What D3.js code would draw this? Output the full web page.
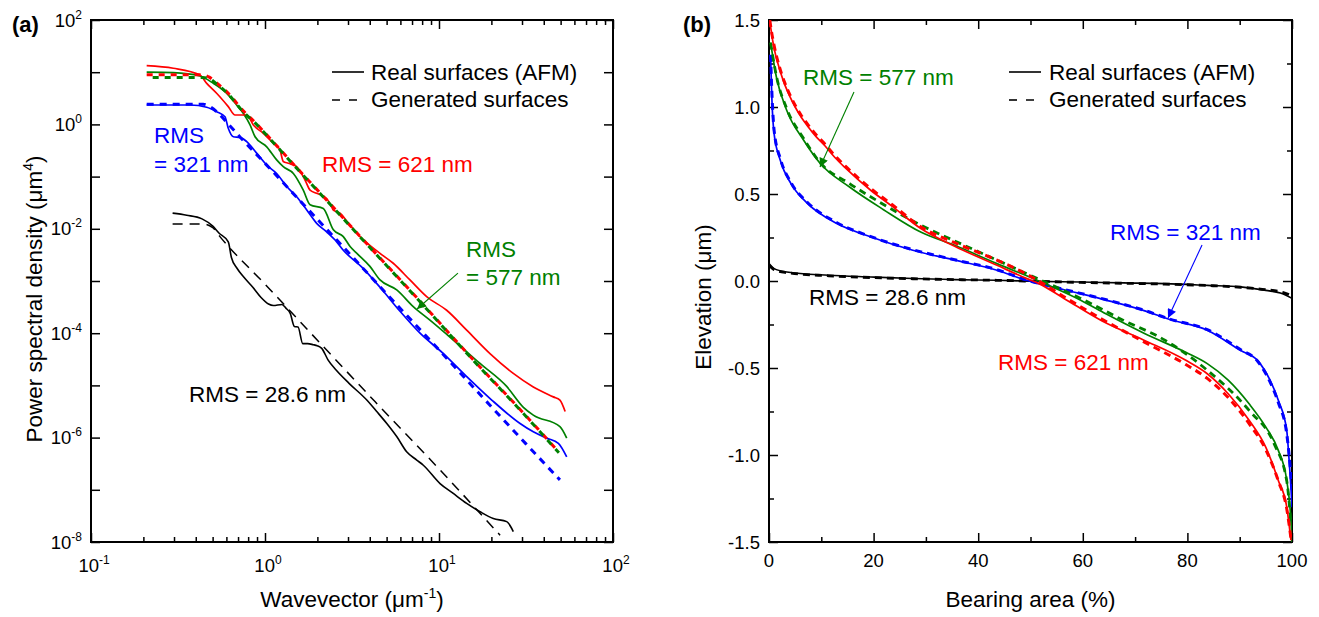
<!DOCTYPE html>
<html><head><meta charset="utf-8">
<script src="https://cdn.jsdelivr.net/npm/d3@7"></script>
<style>
body{margin:0;background:#fff}
text{font-family:"Liberation Sans",Arial,Helvetica,sans-serif;fill:#000}
</style>
</head><body>
<svg id="chart" width="1319" height="617"></svg>
<script>
// ---------- DATA ----------
// Panel (a): pairs of [log10 wavevector (um^-1), log10 PSD (um^4)]
const psdRedReal = [[-0.68,1.125],[-0.527,1.075],[-0.374,0.946],[-0.335,0.787],[-0.278,0.596],[-0.211,0.34],[-0.172,0.18],[-0.105,0.18],[-0.067,-0.01],[-0.01,-0.17],[0.048,-0.36],[0.086,-0.49],[0.105,-0.71],[0.134,-0.745],[0.182,-0.81],[0.23,-1.065],[0.259,-1.26],[0.297,-1.32],[0.354,-1.42],[0.383,-1.58],[0.393,-1.64],[0.431,-1.70],[0.479,-1.89],[0.546,-2.15],[0.661,-2.47],[0.737,-2.66],[0.833,-2.98],[0.929,-3.30],[1.044,-3.56],[1.159,-3.94],[1.293,-4.39],[1.427,-4.77],[1.542,-5.03],[1.657,-5.22],[1.695,-5.28],[1.725,-5.50]];
const psdRedGen = [[-0.68,0.95],[-0.362,0.95],[-0.32,0.905],[-0.287,0.818],[-0.211,0.596],[-0.125,0.26],[-0.057,0.04],[0.01,-0.20],[0.182,-0.83],[0.374,-1.52],[0.603,-2.35],[0.9,-3.42],[1.2,-4.52],[1.466,-5.46],[1.689,-6.28]];
const psdGreenReal = [[-0.68,1.0],[-0.527,0.99],[-0.374,0.927],[-0.297,0.787],[-0.22,0.596],[-0.163,0.372],[-0.125,0.213],[-0.086,-0.01],[-0.057,-0.236],[0.01,-0.43],[0.067,-0.68],[0.105,-0.81],[0.163,-0.94],[0.22,-1.26],[0.259,-1.54],[0.335,-1.61],[0.393,-2.02],[0.45,-2.15],[0.489,-2.34],[0.531,-2.48],[0.603,-2.72],[0.661,-2.98],[0.757,-3.17],[0.852,-3.49],[0.948,-3.75],[1.082,-4.13],[1.236,-4.58],[1.389,-5.02],[1.485,-5.42],[1.542,-5.57],[1.695,-5.79],[1.734,-6.01]];
const psdGreenGen = [[-0.68,0.90],[-0.36,0.90],[-0.31,0.86],[-0.287,0.80],[-0.211,0.58],[-0.125,0.24],[-0.057,0.03],[0.01,-0.21],[0.182,-0.84],[0.374,-1.53],[0.603,-2.36],[0.9,-3.43],[1.2,-4.53],[1.466,-5.47],[1.689,-6.29]];
const psdBlueReal = [[-0.68,0.372],[-0.431,0.372],[-0.335,0.328],[-0.278,0.244],[-0.23,0.148],[-0.211,-0.075],[-0.182,-0.236],[-0.144,-0.248],[-0.105,-0.33],[-0.048,-0.55],[0.01,-0.78],[0.067,-0.94],[0.125,-1.19],[0.182,-1.385],[0.24,-1.64],[0.297,-1.895],[0.354,-2.06],[0.412,-2.25],[0.45,-2.41],[0.555,-2.73],[0.661,-3.12],[0.776,-3.58],[0.891,-4.0],[1.025,-4.39],[1.159,-4.83],[1.303,-5.28],[1.466,-5.73],[1.542,-5.89],[1.619,-6.01],[1.686,-6.11],[1.734,-6.37]];
const psdBlueGen = [[-0.68,0.385],[-0.355,0.385],[-0.31,0.33],[-0.268,0.213],[-0.201,-0.03],[-0.144,-0.24],[0.01,-0.78],[0.22,-1.53],[0.431,-2.28],[0.7,-3.25],[1.0,-4.32],[1.293,-5.38],[1.5,-6.12],[1.695,-6.81]];
const psdBlackReal = [[-0.531,-1.70],[-0.45,-1.74],[-0.362,-1.81],[-0.30,-1.95],[-0.265,-2.08],[-0.211,-2.25],[-0.193,-2.55],[-0.16,-2.76],[-0.121,-2.93],[-0.07,-3.12],[-0.024,-3.31],[0.02,-3.44],[0.048,-3.47],[0.097,-3.45],[0.12,-3.52],[0.145,-3.62],[0.169,-3.87],[0.19,-3.88],[0.217,-4.2],[0.245,-4.2],[0.277,-4.22],[0.30,-4.24],[0.326,-4.29],[0.362,-4.51],[0.41,-4.71],[0.483,-4.96],[0.585,-5.28],[0.642,-5.50],[0.70,-5.73],[0.757,-5.98],[0.814,-6.27],[0.872,-6.43],[0.91,-6.53],[1.006,-6.88],[1.082,-7.07],[1.159,-7.26],[1.236,-7.42],[1.312,-7.55],[1.389,-7.61],[1.427,-7.80]];
const psdBlackGen = [[-0.531,-1.91],[-0.355,-1.91],[-0.3,-1.98],[-0.259,-2.15],[0.0,-3.06],[0.314,-4.18],[0.632,-5.31],[1.006,-6.62],[1.351,-7.87]];

// Panel (b): [bearing area (%), elevation (um)]
const barRedReal = [[0.15,1.50],[0.5,1.42],[0.96,1.34],[2.0,1.22],[3.0,1.13],[4.0,1.06],[5.0,1.00],[6.2,0.94],[7.4,0.89],[9.0,0.83],[10.6,0.78],[12.6,0.71],[14.6,0.65],[19.5,0.52],[23.5,0.43],[29.1,0.30],[35.5,0.20],[43.6,0.09],[49.2,0.015],[51.6,-0.015],[56.4,-0.10],[63.7,-0.23],[71.7,-0.34],[79.7,-0.456],[83.8,-0.533],[87.8,-0.648],[91.8,-0.80],[95,-0.956],[97.4,-1.148],[99,-1.30],[99.8,-1.49]];
const barRedGen = [[0.15,1.50],[0.5,1.43],[1,1.35],[2.0,1.23],[3.0,1.14],[4.0,1.07],[5,1.01],[6.2,0.95],[7.4,0.90],[9.0,0.84],[10.6,0.79],[12.6,0.72],[14.6,0.66],[19.5,0.53],[23.5,0.44],[29.1,0.31],[35.5,0.22],[43.6,0.12],[49.2,0.04],[51.6,0.0],[56.4,-0.09],[63.7,-0.22],[71.7,-0.35],[79.7,-0.48],[83.8,-0.56],[87.8,-0.67],[91.8,-0.82],[95,-0.97],[97.4,-1.15],[99,-1.31],[99.8,-1.48]];
const barGreenReal = [[0.3,1.37],[1.4,1.174],[3.4,0.98],[6.6,0.81],[9.8,0.675],[15.4,0.54],[21.9,0.41],[29.1,0.28],[35.5,0.205],[43.6,0.10],[51.6,0.0],[59.6,-0.11],[64.5,-0.19],[71.7,-0.30],[79.7,-0.41],[83.8,-0.475],[87.8,-0.57],[91.8,-0.706],[95,-0.84],[97.4,-0.975],[99,-1.148],[99.8,-1.38],[100,-1.5]];
const barGreenGen = [[0.3,1.37],[1.4,1.18],[3.4,0.99],[6.6,0.82],[9.8,0.68],[15.4,0.56],[21.9,0.44],[29.1,0.32],[35.5,0.23],[43.6,0.12],[51.6,0.01],[59.6,-0.10],[67.7,-0.225],[75.7,-0.34],[83.8,-0.513],[91.8,-0.744],[96.6,-0.937],[99,-1.15],[99.8,-1.40]];
const barBlueReal = [[0.3,1.29],[0.56,1.04],[0.96,0.85],[2.2,0.69],[4.2,0.56],[7.4,0.445],[13,0.33],[19.5,0.253],[27.5,0.177],[35.5,0.12],[43.6,0.062],[49.2,0.004],[56.4,-0.05],[64.5,-0.11],[71.7,-0.17],[76.5,-0.22],[83.8,-0.283],[90.2,-0.40],[93.4,-0.456],[95.8,-0.57],[97.4,-0.687],[99,-0.86],[99.4,-1.01],[99.8,-1.19],[100,-1.3]];
const barBlueGen = [[0.3,1.3],[0.6,1.05],[1,0.86],[2.2,0.70],[4.2,0.565],[7.4,0.45],[13,0.335],[19.5,0.255],[27.5,0.18],[35.5,0.122],[43.6,0.065],[49.2,0.006],[56.4,-0.048],[64.5,-0.108],[71.7,-0.168],[76.5,-0.218],[83.8,-0.28],[90.2,-0.395],[93.4,-0.46],[95.8,-0.58],[97.4,-0.70],[99,-0.88],[99.6,-1.05],[100,-1.2]];
const barBlackReal = [[0,0.1],[1,0.071],[3.4,0.052],[11.4,0.033],[19.5,0.023],[27.5,0.014],[35.5,0.008],[43.6,0.004],[51.6,-0.002],[59.6,-0.006],[67.7,-0.011],[75.7,-0.015],[83.8,-0.025],[90.2,-0.034],[95,-0.054],[98.2,-0.073],[100,-0.10]];
const barBlackGen = [[0,0.09],[1,0.065],[3.4,0.048],[11.4,0.03],[19.5,0.02],[27.5,0.013],[35.5,0.008],[43.6,0.004],[51.6,-0.002],[59.6,-0.008],[67.7,-0.013],[75.7,-0.018],[83.8,-0.026],[90.2,-0.036],[95,-0.05],[98.2,-0.065],[100,-0.085]];

// Tick labels
const psdXTickExp = [-1, 0, 1, 2];
const psdYTickExp = [2, 0, -2, -4, -6, -8];
const barXTicks = [0, 20, 40, 60, 80, 100];
const barYTicks = [1.5, 1.0, 0.5, 0.0, -0.5, -1.0, -1.5];

const COL = {red:"#ff0000", green:"#008000", blue:"#0000ff", black:"#000000"};

// ---------- LAYOUT ----------
const svg = d3.select("#chart");
const A = {l:91, r:613, t:20, b:542};
const B = {l:769, r:1292, t:20, b:542};
const FS = 22.5, TFS = 18.5;

const xA = d3.scaleLog().domain([0.1, 100]).range([A.l, A.r]);
const yA = d3.scaleLog().domain([1e-8, 100]).range([A.b, A.t]);
const xB = d3.scaleLinear().domain([0, 100]).range([B.l, B.r]);
const yB = d3.scaleLinear().domain([-1.5, 1.5]).range([B.b, B.t]);

const defs = svg.append("defs");
defs.append("clipPath").attr("id","clipA").append("rect")
  .attr("x",A.l).attr("y",A.t).attr("width",A.r-A.l).attr("height",A.b-A.t);
defs.append("clipPath").attr("id","clipB").append("rect")
  .attr("x",B.l).attr("y",B.t).attr("width",B.r-B.l).attr("height",B.b-B.t);
["green","blue"].forEach(c=>{
  defs.append("marker").attr("id","arr-"+c).attr("viewBox","0 0 10 10")
    .attr("refX",10).attr("refY",5).attr("markerUnits","userSpaceOnUse")
    .attr("markerWidth",12).attr("markerHeight",9).attr("orient","auto")
    .append("path").attr("d","M0,0L10,5L0,10Z").attr("fill",COL[c]);
});

// ---------- AXES helper ----------
function drawAxes(P, x, y, xMaj, xMin, yMaj, yMin){
  const g = svg.append("g");
  const mk = (axisFn, scale, vals, size, tr) => {
    const a = g.append("g").attr("transform", tr)
      .call(axisFn(scale).tickValues(vals).tickSize(size).tickFormat(""));
    a.select(".domain").remove();
    a.selectAll("line").attr("stroke","#000").attr("stroke-width",1.5);
  };
  mk(d3.axisBottom, x, xMaj, -9, `translate(0,${P.b})`);
  mk(d3.axisBottom, x, xMin, -5, `translate(0,${P.b})`);
  mk(d3.axisTop, x, xMaj, -9, `translate(0,${P.t})`);
  mk(d3.axisTop, x, xMin, -5, `translate(0,${P.t})`);
  mk(d3.axisLeft, y, yMaj, -9, `translate(${P.l},0)`);
  mk(d3.axisLeft, y, yMin, -5, `translate(${P.l},0)`);
  mk(d3.axisRight, y, yMaj, -9, `translate(${P.r},0)`);
  mk(d3.axisRight, y, yMin, -5, `translate(${P.r},0)`);
  g.append("rect").attr("x",P.l).attr("y",P.t).attr("width",P.r-P.l).attr("height",P.b-P.t)
    .attr("fill","none").attr("stroke","#000").attr("stroke-width",2);
}

// Panel (a) axes
const isPow10 = v => Math.abs(Math.log10(v) - Math.round(Math.log10(v))) < 1e-9;
const xAall = xA.ticks(), yAall = yA.ticks();
drawAxes(A, xA, yA, xAall.filter(isPow10), xAall.filter(v=>!isPow10(v)),
         yAall.filter(isPow10), yAall.filter(v=>!isPow10(v)));
// Panel (b) axes
drawAxes(B, xB, yB, barXTicks, d3.range(10,100,20),
         barYTicks, d3.range(-1.25,1.5,0.5));

// ---------- TICK LABELS ----------
function pow10Label(g, exp, x, yb, anchor){
  const t = g.append("text").attr("x",x).attr("y",yb).attr("font-size",TFS).attr("text-anchor",anchor);
  t.append("tspan").text("10");
  t.append("tspan").attr("font-size",12).attr("dy",-8).text(String(exp));
  return t;
}
const labA = svg.append("g");
psdXTickExp.forEach(e => pow10Label(labA, e, xA(Math.pow(10,e)) + 3, 572, "middle"));
psdYTickExp.forEach(e => pow10Label(labA, e, A.l - 9, yA(Math.pow(10,e)) + 6.5, "end"));
const labB = svg.append("g");
barXTicks.forEach(v => labB.append("text").attr("x",xB(v)).attr("y",567).attr("font-size",TFS)
  .attr("text-anchor","middle").text(String(v)));
barYTicks.forEach(v => labB.append("text").attr("x",B.l-9).attr("y",yB(v)+6.5).attr("font-size",TFS)
  .attr("text-anchor","end").text(v.toFixed(1)));

// Axis titles
function sup(t, s){ t.append("tspan").attr("font-size",14).attr("dy",-9).text(s); t.append("tspan").attr("dy",9).text(")"); }
let t1 = svg.append("text").attr("transform","translate(42,299) rotate(-90)").attr("text-anchor","middle").attr("font-size",FS);
t1.append("tspan").text("Power spectral density (\u03BCm"); sup(t1,"4");
let t2 = svg.append("text").attr("x",(A.l+A.r)/2).attr("y",607).attr("text-anchor","middle").attr("font-size",FS);
t2.append("tspan").text("Wavevector (\u03BCm"); sup(t2,"-1");
svg.append("text").attr("transform","translate(711,297) rotate(-90)").attr("text-anchor","middle").attr("font-size",FS).text("Elevation (\u03BCm)");
svg.append("text").attr("x",(B.l+B.r)/2).attr("y",607).attr("text-anchor","middle").attr("font-size",FS).text("Bearing area (%)");
svg.append("text").attr("x",12).attr("y",32).attr("font-size",22).attr("font-weight","bold").text("(a)");
svg.append("text").attr("x",683).attr("y",32).attr("font-size",22).attr("font-weight","bold").text("(b)");

// ---------- CURVES ----------
const lineA = d3.line().x(d=>xA(Math.pow(10,d[0]))).y(d=>yA(Math.pow(10,d[1]))).curve(d3.curveMonotoneX);
const lineB = d3.line().x(d=>xB(d[0])).y(d=>yB(d[1])).curve(d3.curveMonotoneX);
const gA = svg.append("g").attr("clip-path","url(#clipA)");
const gB = svg.append("g").attr("clip-path","url(#clipB)");
function curve(g, gen, data, color, w, dash, off){
  const p = g.append("path").attr("d", gen(data)).attr("fill","none").attr("stroke",color)
    .attr("stroke-width",w).attr("stroke-linejoin","round");
  if (dash) p.attr("stroke-dasharray",dash).attr("stroke-dashoffset",off||0);
}
// panel (a)
curve(gA, lineA, psdBlackGen, COL.black, 1.5, "10,7");
curve(gA, lineA, psdBlackReal, COL.black, 1.6);
curve(gA, lineA, psdBlueGen, COL.blue, 3, "7,6");
curve(gA, lineA, psdBlueReal, COL.blue, 1.7);
curve(gA, lineA, psdGreenReal, COL.green, 1.7);
curve(gA, lineA, psdRedReal, COL.red, 1.7);
curve(gA, lineA, psdRedGen, COL.red, 3, "6,6");
curve(gA, lineA, psdGreenGen, COL.green, 3, "6,6", 6);
// panel (b)
curve(gB, lineB, barBlackGen, COL.black, 2.8, "7,5");
curve(gB, lineB, barBlackReal, COL.black, 1.6);
curve(gB, lineB, barBlueGen, COL.blue, 3, "7,5");
curve(gB, lineB, barBlueReal, COL.blue, 1.7);
curve(gB, lineB, barGreenGen, COL.green, 2.8, "7,5");
curve(gB, lineB, barGreenReal, COL.green, 1.7);
curve(gB, lineB, barRedGen, COL.red, 3, "7,5");
curve(gB, lineB, barRedReal, COL.red, 1.7);

// ---------- LEGENDS ----------
function legend(x0, x1, tx){
  svg.append("line").attr("x1",x0).attr("x2",x1).attr("y1",72).attr("y2",72).attr("stroke","#000").attr("stroke-width",1.6);
  svg.append("line").attr("x1",x0).attr("x2",x1).attr("y1",100).attr("y2",100).attr("stroke","#000").attr("stroke-width",1.6).attr("stroke-dasharray","8,9");
  svg.append("text").attr("x",tx).attr("y",80).attr("font-size",FS).text("Real surfaces (AFM)");
  svg.append("text").attr("x",tx).attr("y",107).attr("font-size",FS).text("Generated surfaces");
}
legend(332, 364, 371);
legend(1009, 1041, 1049);

// ---------- ANNOTATIONS ----------
function label(x, y, txt, color){
  svg.append("text").attr("x",x).attr("y",y).attr("font-size",FS).attr("fill",color).style("fill",color).text(txt);
}
label(154,143,"RMS",COL.blue); label(154,172,"= 321 nm",COL.blue);
label(322,172,"RMS = 621 nm",COL.red);
label(466,257,"RMS",COL.green); label(466,285,"= 577 nm",COL.green);
label(189,402,"RMS = 28.6 nm",COL.black);
label(803,85,"RMS = 577 nm",COL.green);
label(1110,240,"RMS = 321 nm",COL.blue);
label(809,305,"RMS = 28.6 nm",COL.black);
label(998,370,"RMS = 621 nm",COL.red);

// arrows (annotation anchors in data units)
const arrowsA = [{from:[12.85,1.42e-3], to:[7.48,2.91e-4], c:"green"}];
const arrowsB = [{from:[16.25,1.086], to:[9.75,0.655], c:"green"},{from:[82.8,0.207], to:[76.3,-0.213], c:"blue"}];
arrowsA.forEach(a => svg.append("line").attr("x1",xA(a.from[0])).attr("y1",yA(a.from[1]))
  .attr("x2",xA(a.to[0])).attr("y2",yA(a.to[1])).attr("stroke",COL[a.c]).attr("stroke-width",1.1)
  .attr("marker-end",`url(#arr-${a.c})`));
arrowsB.forEach(a => svg.append("line").attr("x1",xB(a.from[0])).attr("y1",yB(a.from[1]))
  .attr("x2",xB(a.to[0])).attr("y2",yB(a.to[1])).attr("stroke",COL[a.c]).attr("stroke-width",1.1)
  .attr("marker-end",`url(#arr-${a.c})`));
</script>
</body></html>
